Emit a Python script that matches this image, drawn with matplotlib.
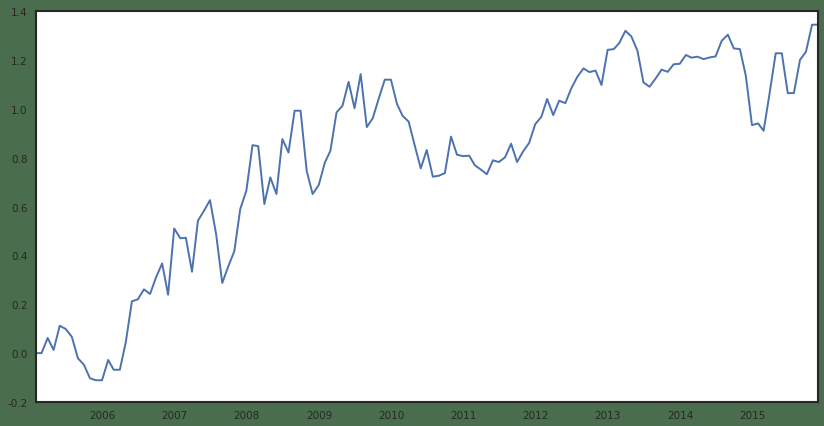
import matplotlib
matplotlib.use('Agg')
import matplotlib.pyplot as plt
import matplotlib.dates as mdates
import numpy as np
import pandas as pd

# 月度数据 2005-01 ~ 2015-11
start = '2005-01-31'
values = [
    0.00, 0.00, 0.062, 0.013, 0.112, 0.099, 0.067, -0.021, -0.047, -0.103, -0.111, -0.111,   # 2005
    -0.028, -0.068, -0.068, 0.044, 0.212, 0.22, 0.261, 0.242, 0.31, 0.367, 0.239, 0.51,      # 2006
    0.47, 0.472, 0.333, 0.542, 0.583, 0.626, 0.487, 0.287, 0.354, 0.417, 0.59, 0.665,       # 2007
    0.851, 0.847, 0.61, 0.719, 0.651, 0.876, 0.821, 0.992, 0.992, 0.746, 0.651, 0.688,      # 2008
    0.78, 0.828, 0.985, 1.012, 1.11, 1.002, 1.142, 0.925, 0.961, 1.043, 1.119, 1.119,       # 2009
    1.019, 0.971, 0.947, 0.851, 0.756, 0.831, 0.722, 0.726, 0.737, 0.886, 0.812, 0.806,     # 2010
    0.808, 0.769, 0.751, 0.732, 0.789, 0.782, 0.801, 0.857, 0.782, 0.826, 0.86, 0.937,      # 2011
    0.967, 1.04, 0.974, 1.033, 1.023, 1.083, 1.131, 1.165, 1.15, 1.156, 1.097, 1.241,       # 2012
    1.244, 1.269, 1.319, 1.296, 1.237, 1.108, 1.09, 1.124, 1.16, 1.151, 1.182, 1.184,       # 2013
    1.22, 1.209, 1.213, 1.203, 1.21, 1.214, 1.278, 1.303, 1.247, 1.244, 1.135, 0.933,       # 2014
    0.94, 0.91, 1.067, 1.227, 1.227, 1.064, 1.064, 1.20, 1.233, 1.344, 1.344,              # 2015
]
dates = pd.date_range(start, periods=len(values), freq='ME')
yticks = [-0.2, 0.0, 0.2, 0.4, 0.6, 0.8, 1.0, 1.2, 1.4]

bg = '#4a6e4d'
txt = '#262626'

fig = plt.figure(figsize=(8.24, 4.27), dpi=100, facecolor=bg)
ax = fig.add_axes([36/824, 1-403/427, (818-36)/824, (403-12)/427])
ax.set_facecolor('white')

ax.plot(dates, values, color='#4C72B0', lw=1.4)

ax.set_xlim(dates[0], dates[-1])
ax.set_ylim(-0.2, 1.4)
ax.set_yticks(yticks)
ax.set_yticklabels(['%.1f' % v for v in yticks])
ax.xaxis.set_major_locator(mdates.YearLocator())
ax.xaxis.set_major_formatter(mdates.DateFormatter('%Y'))

for s in ax.spines.values():
    s.set_color(txt)
    s.set_linewidth(1.5)
ax.tick_params(length=0, labelsize=7.5, labelcolor=txt, pad=6)

fig.savefig('out.png', dpi=100, facecolor=bg)
